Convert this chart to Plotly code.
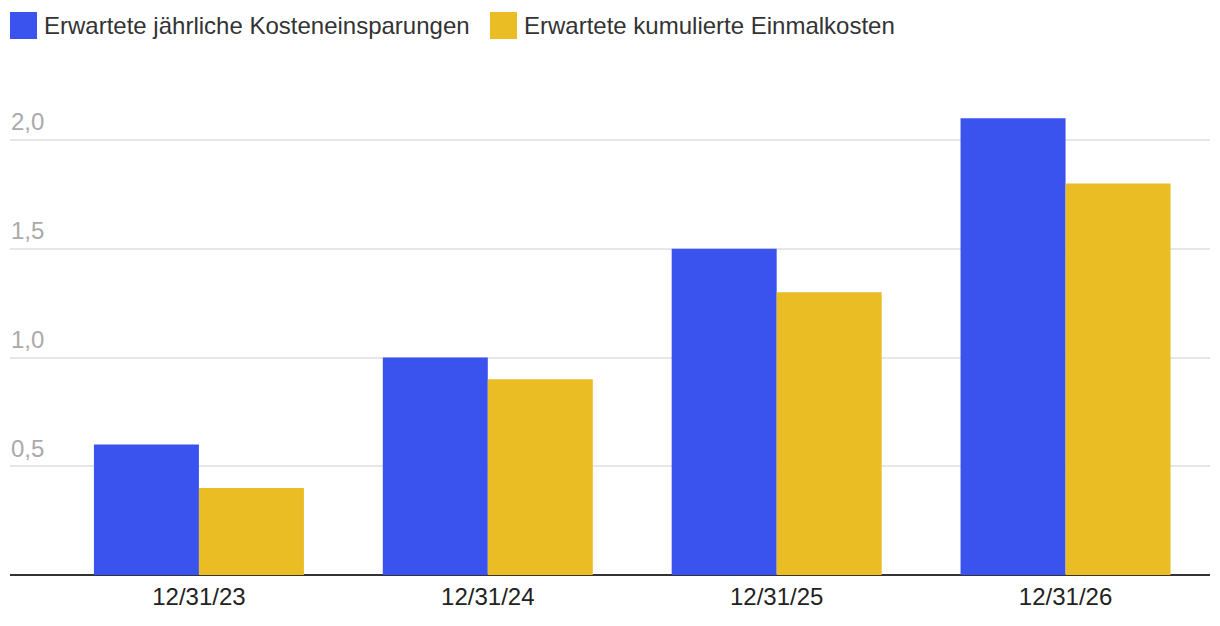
import plotly.graph_objects as go

categories = ["12/31/23", "12/31/24", "12/31/25", "12/31/26"]
series_names = ["Erwartete jährliche Kosteneinsparungen", "Erwartete kumulierte Einmalkosten"]
savings = [0.6, 1.0, 1.5, 2.1]
costs = [0.4, 0.9, 1.3, 1.8]
y_ticks = [0.5, 1.0, 1.5, 2.0]

colors = ["#3a53ee", "#ebbd24"]
FONT = "Helvetica, Arial, Liberation Sans, sans-serif"

fig = go.Figure()
for name, vals, col in zip(series_names, [savings, costs], colors):
    fig.add_trace(go.Bar(x=categories, y=vals, name=name, marker_color=col,
                         marker_line_width=0, showlegend=False))

# custom legend with large square swatches
legend_x = [10, 490]
W, H = 1220, 626
for i, (name, col) in enumerate(zip(series_names, colors)):
    x0 = legend_x[i]
    fig.add_shape(type="rect", xref="paper", yref="paper",
                  x0=(x0 - 10) / 1200, x1=(x0 + 27 - 10) / 1200,
                  y0=1 + (100 - 39) / 475, y1=1 + (100 - 12) / 475,
                  fillcolor=col, line_width=0)
    fig.add_annotation(xref="paper", yref="paper", x=(x0 + 32 - 10) / 1200,
                       y=1 + (100 - 25.5) / 475, text=name, showarrow=False,
                       xanchor="left", yanchor="middle",
                       font=dict(family=FONT, size=24, color="#333333"))

fig.update_layout(
    width=W, height=H,
    margin=dict(l=10, r=10, t=100, b=51),
    paper_bgcolor="white", plot_bgcolor="white",
    barmode="group", bargap=0.273, bargroupgap=0,
    separators=",.",
    font=dict(family=FONT, size=24, color="#333333"),
)
fig.update_xaxes(range=[-0.654, 3.5], showgrid=False, ticks="", showline=False,
                 ticklabelstandoff=5,
                 tickfont=dict(family=FONT, size=24, color="#222222"))
fig.update_yaxes(range=[0, 2.184], tickvals=y_ticks, tickformat=".1f",
                 showgrid=True, gridcolor="#e6e6e6", gridwidth=2,
                 zeroline=True, zerolinecolor="#333333", zerolinewidth=2,
                 ticks="", ticklabelposition="inside", ticklabelshift=-18,
                 ticklabelstandoff=-2,
                 tickfont=dict(family=FONT, size=24, color="#aaaaaa"))

fig.write_html("out.html", config={"displayModeBar": False},
               post_script="document.body.style.margin='0';")
